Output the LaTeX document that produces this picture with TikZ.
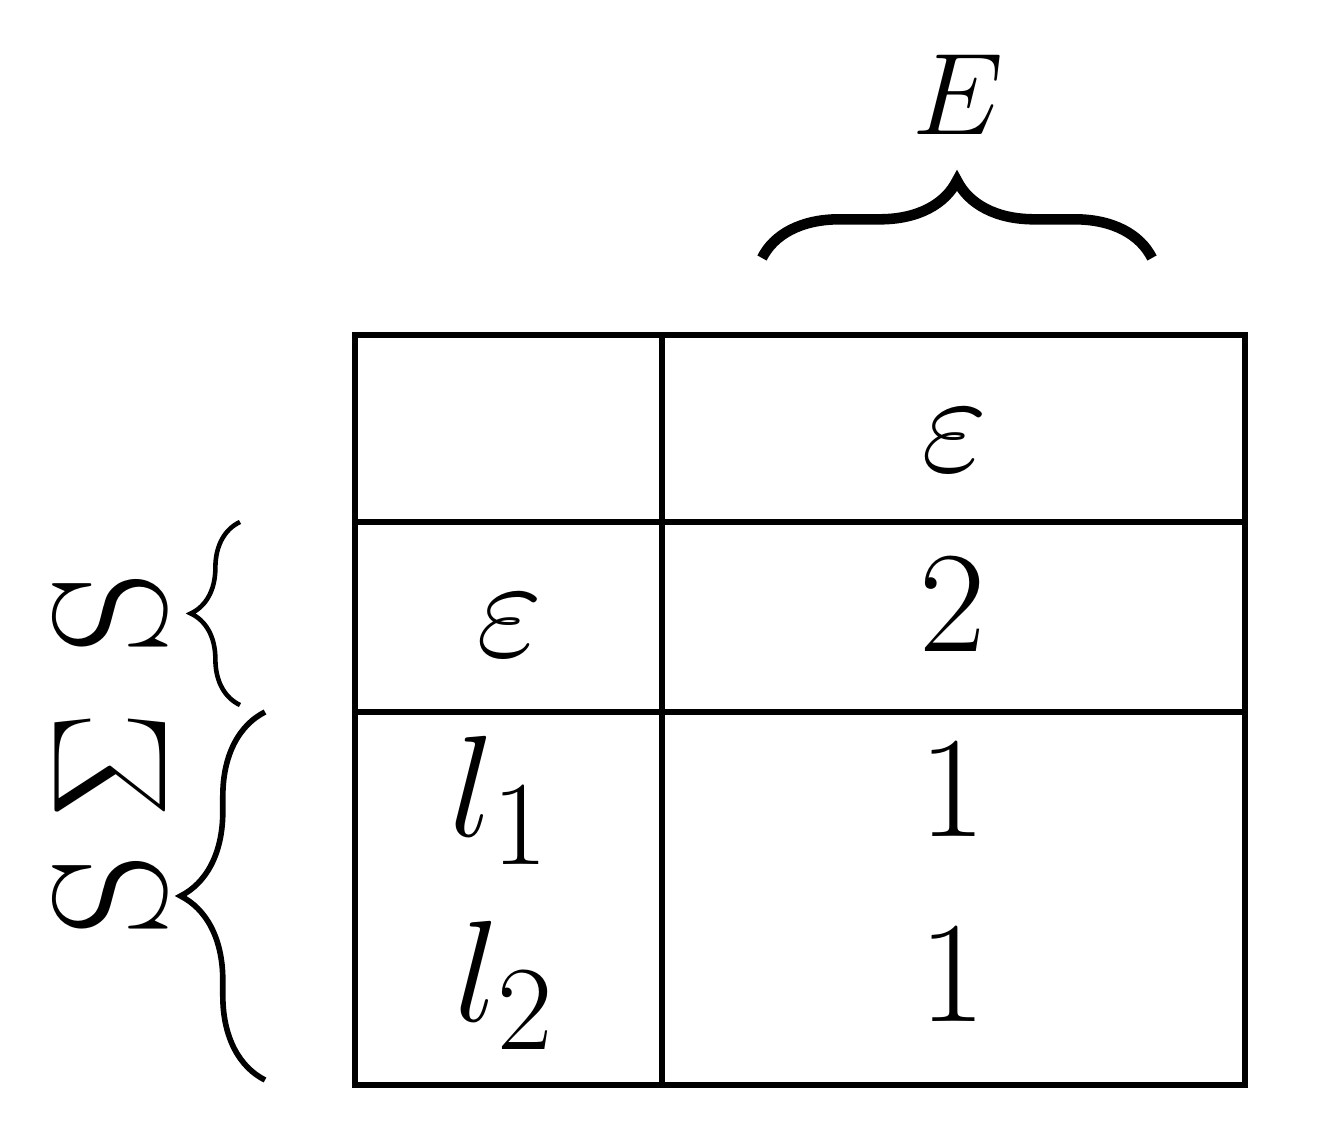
\documentclass[tikz,border=0pt]{standalone}
\usepackage{graphicx}
\usetikzlibrary{decorations.pathreplacing}
\newcommand{\mbig}[2]{\scalebox{#1}{\Huge$#2$}}
\begin{document}
\begin{tikzpicture}[x=0.01cm,y=-0.01cm,
  grid/.style={line width=1.6pt},
  br/.style={decorate,decoration={brace,amplitude=#1}}]
\useasboundingbox (0,0) rectangle (1320,1137);
\coordinate (a) at (355,335); \coordinate (b) at (1245,1085);
\draw[grid] (a) rectangle (b);
\draw[grid] (662,335) -- (662,1085);
\draw[grid] (355,522) -- (1245,522);
\draw[grid] (355,712) -- (1245,712);
% top brace
\coordinate (t1) at (762,258); \coordinate (t2) at (1152,258);
\draw[br=22pt,line width=3pt] (t1) -- (t2);
\node (E) at (958,95) {\mbig{1.33}{E}};
% left braces
\coordinate (l1) at (240,705); \coordinate (l2) at (240,522);
\coordinate (l3) at (265,1080); \coordinate (l4) at (265,712);
\draw[br=14pt,line width=1.3pt] (l1) -- (l2);
\draw[br=24pt,line width=1.6pt] (l3) -- (l4);
\node[rotate=90,font=\fontsize{46}{50}\selectfont] (s1) at (110,613) {S};
\node[rotate=90] (sg) at (110,765) {\mbig{1.85}{\Sigma}};
\node[rotate=90,font=\fontsize{46}{50}\selectfont] (s2) at (110,895) {S};
% cells
\node (e1) at (955,440) {\mbig{1.65}{\varepsilon}};
\node (e2) at (510,625) {\mbig{1.65}{\varepsilon}};
\node (n2) at (953,605) {\mbig{1.65}{2}};
\node (n1) at (953,790) {\mbig{1.65}{1}};
\node (n3) at (953,975) {\mbig{1.65}{1}};
\node (x1) at (500,800) {\mbig{1.65}{l_1}};
\node (x2) at (505,985) {\mbig{1.65}{l_2}};
\end{tikzpicture}
\end{document}
